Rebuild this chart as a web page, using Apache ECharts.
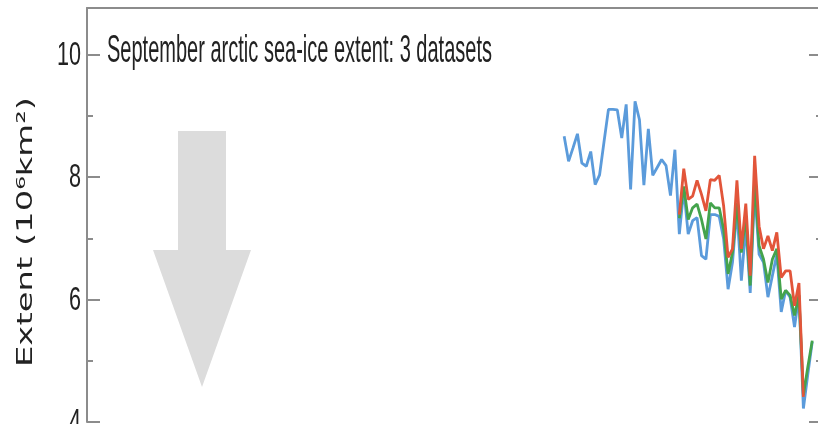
<!DOCTYPE html>
<html><head><meta charset="utf-8">
<script src="https://cdn.jsdelivr.net/npm/echarts@6/dist/echarts.min.js"></script>
<style>html,body{margin:0;padding:0;background:#fff}#c{width:818px;height:424px}</style>
</head><body><div id="c"></div>
<script>
// ---- data ----
const blueStart = 1953;
const blueValues = [8.67, 8.26, 8.48, 8.71, 8.23, 8.18, 8.42, 7.88, 8.04, 8.58,
  9.11, 9.11, 9.10, 8.64, 9.19, 7.80, 9.24, 8.94, 7.87, 8.79,
  8.03, 8.16, 8.29, 8.19, 7.70, 8.45,
  7.07, 7.80, 7.07, 7.29, 7.34, 6.72, 6.66, 7.39, 7.39, 7.36,
  6.99, 6.17, 6.61, 7.48, 6.31, 7.20, 6.11, 7.80, 6.74, 6.61,
  6.04, 6.39, 6.74, 5.80, 6.15, 6.04, 5.55, 6.07, 4.22, 4.78, 5.31];
const redStart = 1979;
const redValues = [7.39, 8.14, 7.64, 7.69, 7.95, 7.72, 7.45, 7.96, 7.95, 8.03,
  7.53, 6.69, 6.83, 7.95, 6.83, 7.57, 6.39, 8.35, 7.20, 6.83,
  7.04, 6.80, 7.10, 6.36, 6.47, 6.47, 5.90, 6.27, 4.41];
const greenStart = 1979;
const greenValues = [7.33, 7.85, 7.31, 7.50, 7.56, 7.31, 6.99, 7.58, 7.50, 7.50,
  7.15, 6.42, 6.77, 7.58, 6.77, 7.37, 6.23, 7.96, 6.88, 6.66,
  6.28, 6.66, 6.83, 6.01, 6.15, 6.07, 5.74, 6.07, 4.44, 4.90, 5.33];
const majorTicks = [4, 6, 8, 10];
const minorTicks = [5, 7, 9];
const tickLabels = ['4', '6', '8', '10'];
const titleText = 'September arctic sea-ice extent: 3 datasets';
const yNameText = 'Extent (10\u2076km\u00B2)';

function pairs(start, vals) { return vals.map((v, i) => [start + i, v]); }

const ctx = document.createElement('canvas').getContext('2d');
function measure(font, text) { ctx.font = font; return ctx.measureText(text).width; }

const titleFont = '38px "Liberation Sans", sans-serif';
const titleW = measure(titleFont, titleText);
const yNameFont = '22px "DejaVu Sans", sans-serif';
const yNameW = measure(yNameFont, yNameText);
const labelFont = '33px "Liberation Sans", sans-serif';
const labelScale = 24 / measure(labelFont, '10');

const axisColor = '#8c8c8c';
const chart = echarts.init(document.getElementById('c'), null, { renderer: 'canvas' });
const yBase = { type: 'value', min: 4, max: 10.766, splitLine: { show: false } };
const option = {
  animation: false,
  grid: { left: 87, right: -4, top: 8, bottom: 2, containLabel: false, outerBoundsMode: 'none' },
  xAxis: {
    type: 'value', min: 1845.3, max: 2011.2, position: 'top',
    axisLine: { show: true, lineStyle: { color: axisColor, width: 2 } },
    axisTick: { show: false }, axisLabel: { show: false }, splitLine: { show: false }
  },
  yAxis: [
    Object.assign({}, yBase, {
      position: 'left',
      axisLine: { show: true, lineStyle: { color: axisColor, width: 2 } },
      axisTick: { show: true, inside: true, length: 13, customValues: majorTicks, lineStyle: { color: axisColor, width: 2 } },
      axisLabel: { show: false }
    }),
    Object.assign({}, yBase, {
      position: 'left',
      axisLine: { show: false },
      axisTick: { show: true, inside: true, length: 6, customValues: minorTicks, lineStyle: { color: axisColor, width: 2 } },
      axisLabel: { show: false }
    }),
    Object.assign({}, yBase, {
      position: 'right',
      axisLine: { show: true, lineStyle: { color: axisColor, width: 2 } },
      axisTick: { show: true, inside: true, length: 13, customValues: majorTicks, lineStyle: { color: axisColor, width: 2 } },
      axisLabel: { show: false }
    }),
    Object.assign({}, yBase, {
      position: 'right',
      axisLine: { show: false },
      axisTick: { show: true, inside: true, length: 6, customValues: minorTicks, lineStyle: { color: axisColor, width: 2 } },
      axisLabel: { show: false }
    })
  ],
  series: [
    { type: 'line', name: 'blue', data: pairs(blueStart, blueValues), showSymbol: false, z: 3,
      lineStyle: { color: '#5b9bdb', width: 2.8 } },
    { type: 'line', name: 'green', data: pairs(greenStart, greenValues), showSymbol: false, z: 4,
      lineStyle: { color: '#44a34c', width: 2.8 } },
    { type: 'line', name: 'red', data: pairs(redStart, redValues), showSymbol: false, z: 5,
      lineStyle: { color: '#e2553a', width: 2.8 } }
  ]
};
chart.setOption(option);

// tick labels placed through the y axis scale
const axisX = chart.convertToPixel({ xAxisIndex: 0 }, 1845.3);
const graphics = [
  { type: 'polygon', z: 1, silent: true,
    shape: { points: [[178,131],[226,131],[226,250],[251,250],[202,387],[153,250],[178,250]] },
    style: { fill: '#dcdcdc' } },
  { type: 'text', z: 10, x: 107, y: 52, scaleX: 385 / titleW, scaleY: 1,
    style: { text: titleText, font: titleFont, fill: '#222', align: 'left', verticalAlign: 'middle' } },
  { type: 'text', z: 10, x: 26, y: 232, rotation: Math.PI / 2, scaleX: 270 / yNameW, scaleY: 1,
    style: { text: yNameText, font: yNameFont, fill: '#222', align: 'center', verticalAlign: 'middle' } }
];
majorTicks.forEach((v, i) => {
  const py = chart.convertToPixel({ yAxisIndex: 0 }, v);
  graphics.push({ type: 'text', z: 10, x: axisX - 6, y: py + 1, scaleX: labelScale, scaleY: 1,
    style: { text: tickLabels[i], font: labelFont, fill: '#222', align: 'right', verticalAlign: 'middle' } });
});
chart.setOption({ graphic: graphics });
</script></body></html>
